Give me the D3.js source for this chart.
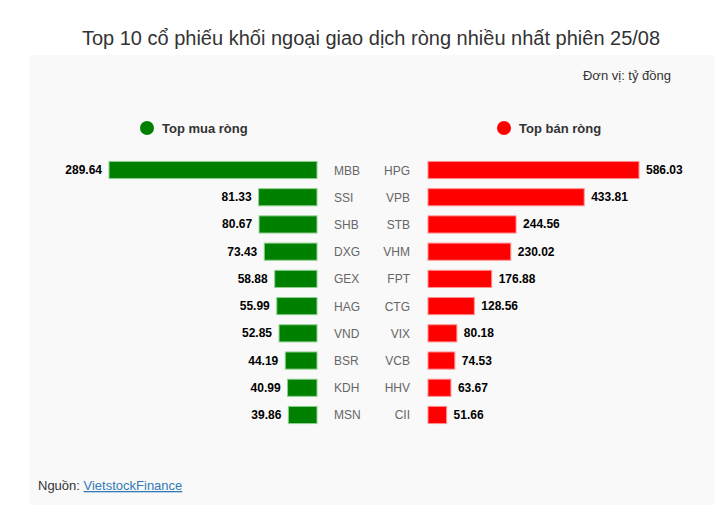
<!DOCTYPE html>
<html>
<head>
<meta charset="utf-8">
<script src="https://cdn.jsdelivr.net/npm/d3@7"></script>
<style>
  body { margin: 0; background: #fff; }
  svg { display: block; font-family: "Liberation Sans", Arial, sans-serif; }
</style>
</head>
<body>
<script>
const buyNames = ['MBB', 'SSI', 'SHB', 'DXG', 'GEX', 'HAG', 'VND', 'BSR', 'KDH', 'MSN'];
const buyValues = [289.64, 81.33, 80.67, 73.43, 58.88, 55.99, 52.85, 44.19, 40.99, 39.86];
const sellNames = ['HPG', 'VPB', 'STB', 'VHM', 'FPT', 'CTG', 'VIX', 'VCB', 'HHV', 'CII'];
const sellValues = [586.03, 433.81, 244.56, 230.02, 176.88, 128.56, 80.18, 74.53, 63.67, 51.66];

const width = 720;
const height = 516;
const midLeft = 317;
const midRight = 428;

const svg = d3.select('body').append('svg').attr('width', width).attr('height', height);

svg.append('rect')
  .attr('x', 29).attr('y', 55).attr('width', 686).attr('height', 450)
  .attr('fill', '#f9f9f9');

svg.append('text')
  .attr('x', 371).attr('y', 45)
  .attr('text-anchor', 'middle')
  .attr('font-size', 20)
  .attr('fill', '#333')
  .text('Top 10 cổ phiếu khối ngoại giao dịch ròng nhiều nhất phiên 25/08');

svg.append('text')
  .attr('x', 671).attr('y', 80)
  .attr('text-anchor', 'end')
  .attr('font-size', 13)
  .attr('fill', '#333')
  .text('Đơn vị: tỷ đồng');

// legend
const legend = [
  { label: 'Top mua ròng', color: '#008000', x: 147 },
  { label: 'Top bán ròng', color: '#ff0000', x: 504 },
];
const lg = svg.selectAll('.legend').data(legend).enter().append('g').attr('class', 'legend');
lg.append('circle').attr('cx', d => d.x).attr('cy', 128).attr('r', 7).attr('fill', d => d.color);
lg.append('text')
  .attr('x', d => d.x + 15).attr('y', 133)
  .attr('font-size', 13).attr('font-weight', 'bold').attr('fill', '#333')
  .text(d => d.label);

const y = d3.scaleBand()
  .domain(d3.range(buyNames.length))
  .range([156.4, 428.6])
  .paddingInner(0.37)
  .paddingOuter(0.185);

const xBuy = d3.scaleLinear().domain([0, d3.max(buyValues)]).range([0, 208]);
const xSell = d3.scaleLinear().domain([0, d3.max(sellValues)]).range([0, 211]);

// buy side
svg.selectAll('.buy')
  .data(buyValues)
  .enter()
  .append('rect')
  .attr('class', 'buy')
  .attr('x', d => midLeft - xBuy(d))
  .attr('y', (_, i) => y(i))
  .attr('width', d => xBuy(d))
  .attr('height', y.bandwidth())
  .attr('fill', '#008000')
  .attr('stroke', '#8fd08f')
  .attr('stroke-width', 1);

svg.selectAll('.buy-val')
  .data(buyValues)
  .enter()
  .append('text')
  .attr('x', d => midLeft - xBuy(d) - 7)
  .attr('y', (_, i) => y(i) + y.bandwidth() / 2 + 4)
  .attr('text-anchor', 'end')
  .attr('font-size', 12).attr('font-weight', 'bold').attr('fill', '#000')
  .text(d => d.toFixed(2));

svg.selectAll('.buy-name')
  .data(buyNames)
  .enter()
  .append('text')
  .attr('x', 334)
  .attr('y', (_, i) => y(i) + y.bandwidth() / 2 + 4.5)
  .attr('font-size', 12).attr('fill', '#666')
  .text(d => d);

// sell side
svg.selectAll('.sell')
  .data(sellValues)
  .enter()
  .append('rect')
  .attr('class', 'sell')
  .attr('x', midRight)
  .attr('y', (_, i) => y(i))
  .attr('width', d => xSell(d))
  .attr('height', y.bandwidth())
  .attr('fill', '#ff0000')
  .attr('stroke', '#ff9090')
  .attr('stroke-width', 1);

svg.selectAll('.sell-val')
  .data(sellValues)
  .enter()
  .append('text')
  .attr('x', d => midRight + xSell(d) + 7)
  .attr('y', (_, i) => y(i) + y.bandwidth() / 2 + 4)
  .attr('font-size', 12).attr('font-weight', 'bold').attr('fill', '#000')
  .text(d => d.toFixed(2));

svg.selectAll('.sell-name')
  .data(sellNames)
  .enter()
  .append('text')
  .attr('x', 410)
  .attr('y', (_, i) => y(i) + y.bandwidth() / 2 + 4.5)
  .attr('text-anchor', 'end')
  .attr('font-size', 12).attr('fill', '#666')
  .text(d => d);

// source
const src = svg.append('text').attr('x', 38).attr('y', 490).attr('font-size', 13).attr('fill', '#333');
src.append('tspan').text('Nguồn: ');
src.append('tspan').attr('fill', '#337ab7').attr('text-decoration', 'underline').text('VietstockFinance');
</script>
</body>
</html>
